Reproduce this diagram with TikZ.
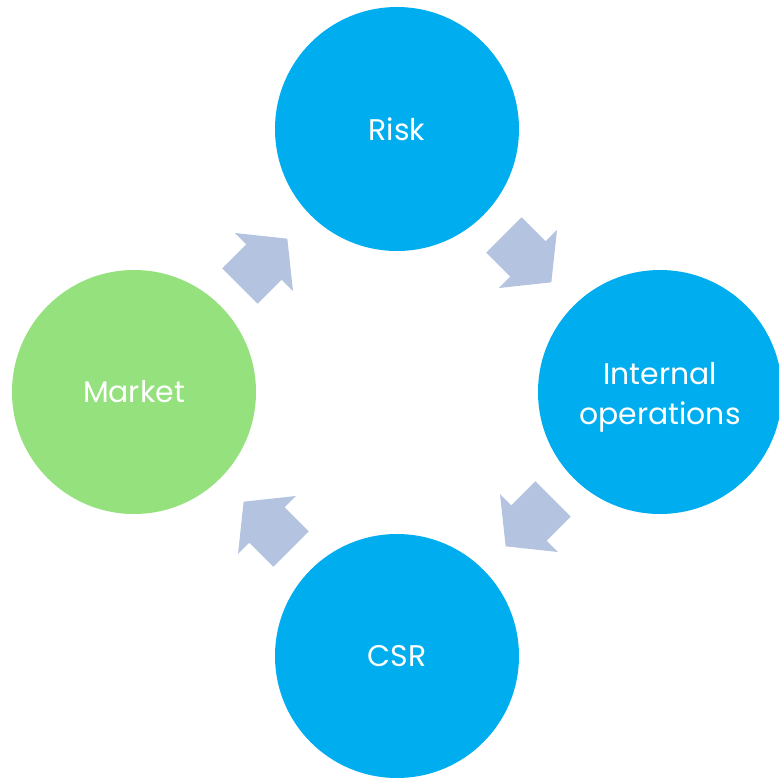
\documentclass[tikz,border=0pt]{standalone}
\usepackage{fontspec}
\setmainfont{Poppins}
\usepackage{tikz}
\definecolor{stepblue}{HTML}{00AEEF}
\definecolor{stepgreen}{HTML}{95E17E}
\definecolor{arrowgray}{HTML}{B4C3DF}

\begin{document}
\begin{tikzpicture}[
  stage/.style={circle, fill=stepblue, minimum size=2.44cm, inner sep=0pt,
    text=white, align=center, font=\fontsize{8.5}{11.5}\selectfont}]
  \useasboundingbox (0,0) rectangle (7.79,7.81);
  %% the four stages
  \node[stage] (risk) at (3.97,6.52) {Risk};
  \node[stage] (internal) at (6.60,3.89)
    {\raisebox{-1.3pt}[\height][\depth]{\begin{tabular}{@{}c@{}}Internal\\operations\end{tabular}}};
  \node[stage] (csr) at (3.97,1.25) {CSR};
  \node[stage, fill=stepgreen] (market) at (1.34,3.89) {Market};
  %% block arrows running clockwise
\foreach \cx/\cy/\ang in {2.64/5.19/45, 5.28/5.22/-45, 5.29/2.58/-135, 2.67/2.56/135}
    \fill[arrowgray, shift={(\cx,\cy)}, rotate=\ang]
      (-0.34,-0.25) -- (0,-0.25) -- (0,-0.41) -- (0.33,0) -- (0,0.41) -- (0,0.25) -- (-0.34,0.25) -- cycle;
\end{tikzpicture}
\end{document}
